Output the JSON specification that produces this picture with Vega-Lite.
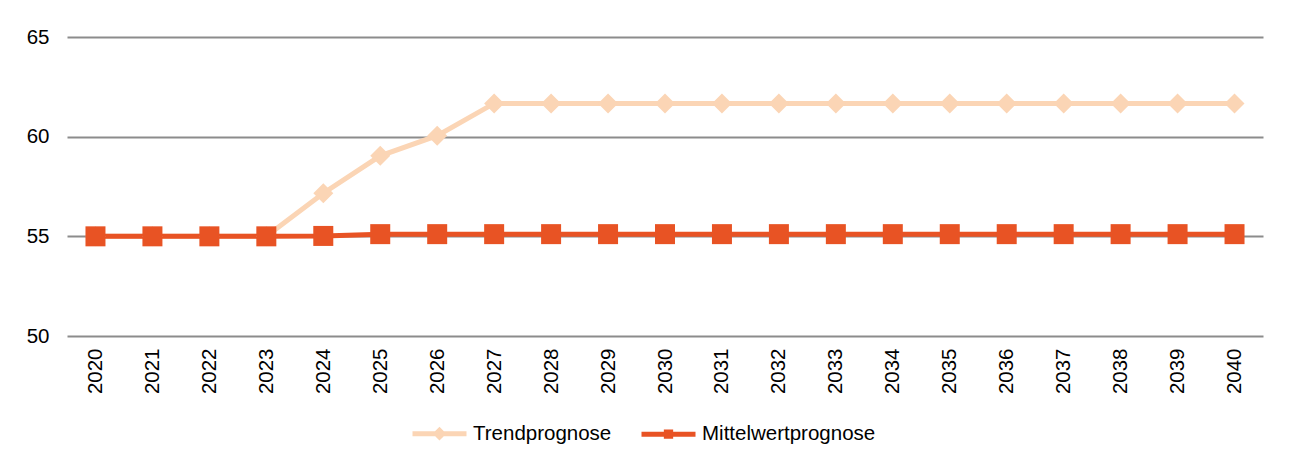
{
  "$schema": "https://vega.github.io/schema/vega-lite/v6.json",
  "width": 1196,
  "height": 299,
  "autosize": {"type": "none"},
  "padding": {"left": 67, "top": 37, "right": 28, "bottom": 127},
  "background": "white",
  "config": {
    "view": {"stroke": null},
    "font": "Liberation Sans",
    "axis": {"labelFont": "Liberation Sans", "labelFontSize": 20.5, "labelColor": "#000000"}
  },
  "data": {
    "values": [
      {"Jahr": "2020", "Serie": "Trendprognose", "Wert": 55.0},
      {"Jahr": "2021", "Serie": "Trendprognose", "Wert": 55.0},
      {"Jahr": "2022", "Serie": "Trendprognose", "Wert": 55.0},
      {"Jahr": "2023", "Serie": "Trendprognose", "Wert": 55.0},
      {"Jahr": "2024", "Serie": "Trendprognose", "Wert": 57.16},
      {"Jahr": "2025", "Serie": "Trendprognose", "Wert": 59.04},
      {"Jahr": "2026", "Serie": "Trendprognose", "Wert": 60.05},
      {"Jahr": "2027", "Serie": "Trendprognose", "Wert": 61.67},
      {"Jahr": "2028", "Serie": "Trendprognose", "Wert": 61.67},
      {"Jahr": "2029", "Serie": "Trendprognose", "Wert": 61.67},
      {"Jahr": "2030", "Serie": "Trendprognose", "Wert": 61.67},
      {"Jahr": "2031", "Serie": "Trendprognose", "Wert": 61.67},
      {"Jahr": "2032", "Serie": "Trendprognose", "Wert": 61.67},
      {"Jahr": "2033", "Serie": "Trendprognose", "Wert": 61.67},
      {"Jahr": "2034", "Serie": "Trendprognose", "Wert": 61.67},
      {"Jahr": "2035", "Serie": "Trendprognose", "Wert": 61.67},
      {"Jahr": "2036", "Serie": "Trendprognose", "Wert": 61.67},
      {"Jahr": "2037", "Serie": "Trendprognose", "Wert": 61.67},
      {"Jahr": "2038", "Serie": "Trendprognose", "Wert": 61.67},
      {"Jahr": "2039", "Serie": "Trendprognose", "Wert": 61.67},
      {"Jahr": "2040", "Serie": "Trendprognose", "Wert": 61.67},
      {"Jahr": "2020", "Serie": "Mittelwertprognose", "Wert": 55.0},
      {"Jahr": "2021", "Serie": "Mittelwertprognose", "Wert": 55.0},
      {"Jahr": "2022", "Serie": "Mittelwertprognose", "Wert": 55.0},
      {"Jahr": "2023", "Serie": "Mittelwertprognose", "Wert": 55.0},
      {"Jahr": "2024", "Serie": "Mittelwertprognose", "Wert": 55.02},
      {"Jahr": "2025", "Serie": "Mittelwertprognose", "Wert": 55.11},
      {"Jahr": "2026", "Serie": "Mittelwertprognose", "Wert": 55.11},
      {"Jahr": "2027", "Serie": "Mittelwertprognose", "Wert": 55.11},
      {"Jahr": "2028", "Serie": "Mittelwertprognose", "Wert": 55.11},
      {"Jahr": "2029", "Serie": "Mittelwertprognose", "Wert": 55.11},
      {"Jahr": "2030", "Serie": "Mittelwertprognose", "Wert": 55.11},
      {"Jahr": "2031", "Serie": "Mittelwertprognose", "Wert": 55.11},
      {"Jahr": "2032", "Serie": "Mittelwertprognose", "Wert": 55.11},
      {"Jahr": "2033", "Serie": "Mittelwertprognose", "Wert": 55.11},
      {"Jahr": "2034", "Serie": "Mittelwertprognose", "Wert": 55.11},
      {"Jahr": "2035", "Serie": "Mittelwertprognose", "Wert": 55.11},
      {"Jahr": "2036", "Serie": "Mittelwertprognose", "Wert": 55.11},
      {"Jahr": "2037", "Serie": "Mittelwertprognose", "Wert": 55.11},
      {"Jahr": "2038", "Serie": "Mittelwertprognose", "Wert": 55.11},
      {"Jahr": "2039", "Serie": "Mittelwertprognose", "Wert": 55.11},
      {"Jahr": "2040", "Serie": "Mittelwertprognose", "Wert": 55.11}
    ]
  },
  "encoding": {
    "x": {
      "field": "Jahr", "type": "ordinal",
      "scale": {"type": "point", "padding": 0.5},
      "axis": {"title": null, "labelAngle": -90, "ticks": false, "domain": false, "grid": false, "labelPadding": 12, "labelBaseline": "middle", "labelAlign": "right"}
    },
    "y": {
      "field": "Wert", "type": "quantitative",
      "scale": {"domain": [50, 65], "zero": false, "nice": false},
      "axis": {"title": null, "values": [50, 55, 60, 65], "ticks": false, "domain": false, "grid": true, "gridColor": "#8c8c8c", "gridWidth": 2, "labelPadding": 18}
    },
    "color": {
      "field": "Serie", "type": "nominal",
      "scale": {"domain": ["Trendprognose", "Mittelwertprognose"], "range": ["#FBD5B5", "#E85324"]},
      "legend": {
        "title": null,
        "orient": "none",
        "direction": "horizontal",
        "legendX": 343,
        "legendY": 367,
        "labelFont": "Liberation Sans",
        "labelFontSize": 20.5,
        "labelColor": "#000000",
        "labelLimit": 0,
        "labelOffset": 4,
        "columnPadding": 19,
        "symbolSize": 2916,
        "symbolStrokeWidth": 5,
        "symbolType": "M-1,0H1",
        "encode": {
          "symbols": {
            "update": {
              "shape": {"signal": "datum.value === 'Trendprognose' ? 'M-1,0H1M-0.12,0L0,-0.12L0.12,0L0,0.12Z' : 'M-1,0H1M-0.08,-0.08H0.08V0.08H-0.08Z'"},
              "fill": {"signal": "datum.value === 'Trendprognose' ? '#FBD5B5' : '#E85324'"},
              "stroke": {"signal": "datum.value === 'Trendprognose' ? '#FBD5B5' : '#E85324'"},
              "strokeWidth": {"value": 5},
              "opacity": {"value": 1}
            }
          }
        }
      }
    }
  },
  "layer": [
    {
      "mark": {"type": "line", "strokeWidth": 5}
    },
    {
      "transform": [{"filter": "datum.Serie === 'Trendprognose'"}],
      "mark": {"type": "point", "shape": "diamond", "filled": true, "opacity": 1, "size": 400}
    },
    {
      "transform": [{"filter": "datum.Serie === 'Mittelwertprognose'"}],
      "mark": {"type": "point", "shape": "square", "filled": true, "opacity": 1, "size": 400}
    }
  ]
}
